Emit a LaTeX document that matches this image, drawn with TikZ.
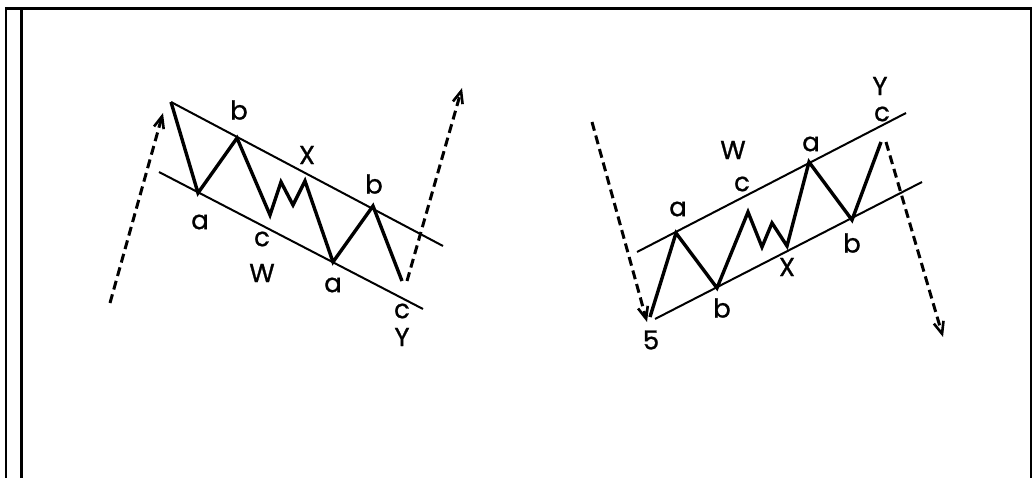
\documentclass[tikz,border=0pt]{standalone}
\usepackage{fontspec}
\setmainfont{Poppins}
\newfontfamily\lblfont[FakeBold=1]{Poppins}
\usetikzlibrary{arrows.meta}
\tikzset{
  wave/.style={line width=3.4pt, line join=miter, line cap=butt},
  chan/.style={line width=2pt},
  trend/.style={line width=3pt, dash pattern=on 9pt off 5pt, -{Straight Barb[length=12pt,width=10pt,line width=2.6pt]}},
  lbl/.style={font=\lblfont\fontsize{26}{26}\selectfont, inner sep=0pt},
  frameline/.style={line width=2.4pt}
}
\begin{document}
\begin{tikzpicture}[x=1pt,y=-1pt]
\useasboundingbox (0,0) rectangle (1035,478);
% frame
\coordinate (f1) at (6,478); \coordinate (f2) at (6,8);
\coordinate (f3) at (1031,8); \coordinate (f4) at (1031,478);
\coordinate (f5) at (21.5,9); \coordinate (f6) at (21.5,478);
\draw[frameline, line width=2pt] (f1) -- (f2);
\draw[frameline, line width=3pt] (5,9) -- (1032,9);
\draw[frameline, line width=2pt] (f3) -- (f4);
\draw[frameline, line width=2.6pt] (f5) -- (f6);

% ---------- left diagram ----------
\coordinate (L0) at (171,102);
\coordinate (La) at (198,193);
\coordinate (Lb) at (237,138);
\coordinate (Lc1) at (270,215);
\coordinate (Lc2) at (281,182);
\coordinate (Lc3) at (293,205);
\coordinate (LX) at (305,181);
\coordinate (La2) at (333,262);
\coordinate (Lb2) at (373,206);
\coordinate (LY) at (402,281);
\coordinate (Lu1) at (171,102); \coordinate (Lu2) at (443,246);
\coordinate (Ll1) at (159,172); \coordinate (Ll2) at (423,309);
\coordinate (Ld1s) at (110,303); \coordinate (Ld1e) at (163,113);
\coordinate (Ld2s) at (407,281); \coordinate (Ld2e) at (462,88);

\draw[chan] (Lu1) -- (Lu2);
\draw[chan] (Ll1) -- (Ll2);
\draw[wave] (L0) -- (La) -- (Lb) -- (Lc1) -- (Lc2) -- (Lc3) -- (LX) -- (La2) -- (Lb2) -- (LY);
\draw[trend] (Ld1s) -- (Ld1e);
\draw[trend] (Ld2s) -- (Ld2e);

\node[lbl] (tLb) at (239,110) {b};
\node[lbl] (tLX) at (307,155) {X};
\node[lbl] (tLa) at (200,222) {a};
\node[lbl] (tLc) at (262,239) {c};
\node[lbl] (tLW) at (262,273) {W};
\node[lbl] (tLa2) at (333,285) {a};
\node[lbl] (tLb2) at (374,184) {b};
\node[lbl] (tLc2) at (402,311) {c};
\node[lbl] (tLY) at (402,337) {Y};

% ---------- right diagram ----------
\coordinate (R0) at (650,317);
\coordinate (Ra) at (676,233);
\coordinate (Rb) at (717,288);
\coordinate (Rc1) at (748,212);
\coordinate (Rc2) at (762,247);
\coordinate (Rc3) at (772,223);
\coordinate (RX) at (787,246);
\coordinate (Ra2) at (809,162);
\coordinate (Rb2) at (852,220);
\coordinate (RY) at (881,142);
\coordinate (Ru1) at (637,252); \coordinate (Ru2) at (906,113);
\coordinate (Rl1) at (655,319); \coordinate (Rl2) at (922,182);
\coordinate (Rd1s) at (592,122); \coordinate (Rd1e) at (647,322);
\coordinate (Rd2s) at (886,142); \coordinate (Rd2e) at (943,337);

\draw[chan] (Ru1) -- (Ru2);
\draw[chan] (Rl1) -- (Rl2);
\draw[wave] (R0) -- (Ra) -- (Rb) -- (Rc1) -- (Rc2) -- (Rc3) -- (RX) -- (Ra2) -- (Rb2) -- (RY);
\draw[trend] (Rd1s) -- (Rd1e);
\draw[trend] (Rd2s) -- (Rd2e);

\node[lbl] (tRY) at (880,86) {Y};
\node[lbl] (tRc2) at (882,114) {c};
\node[lbl] (tRW) at (733,150) {W};
\node[lbl] (tRa2) at (811,144) {a};
\node[lbl] (tRc) at (742,184) {c};
\node[lbl] (tRa) at (678,209) {a};
\node[lbl] (tRX) at (787,267) {X};
\node[lbl] (tRb2) at (852,243) {b};
\node[lbl] (tRb) at (722,308) {b};
\node[lbl] (tR5) at (651,340) {5};
\end{tikzpicture}
\end{document}
